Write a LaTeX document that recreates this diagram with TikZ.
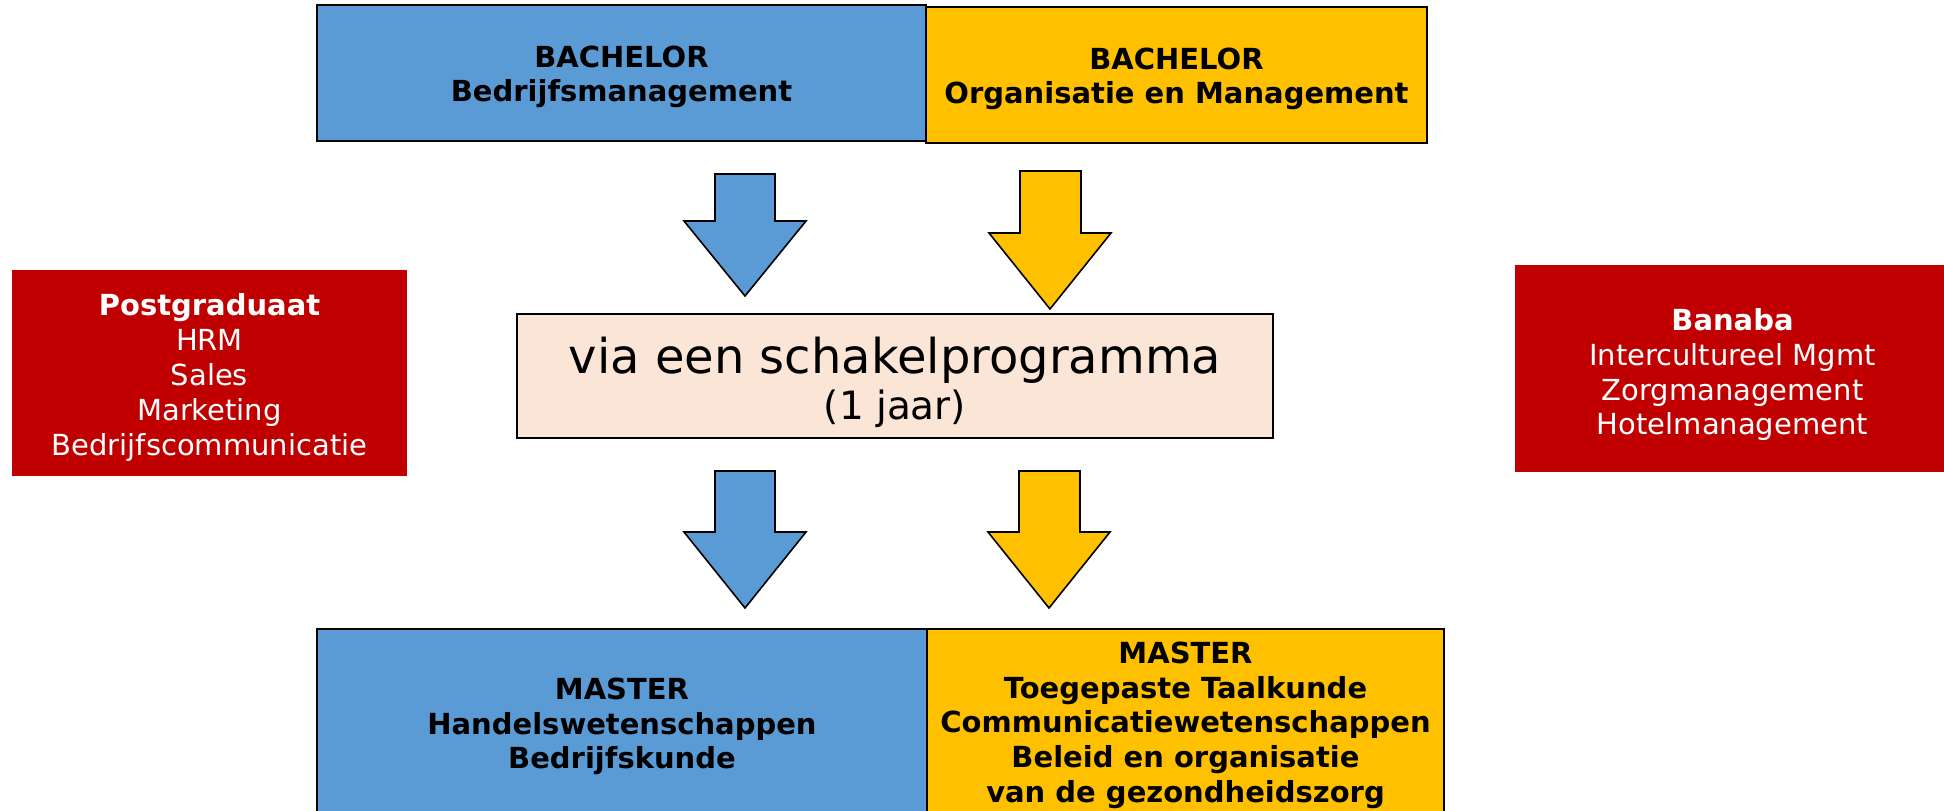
\documentclass[tikz,border=0pt]{standalone}
\usepackage{fontspec}
\setmainfont{DejaVu Sans}
\definecolor{bblue}{HTML}{5B9BD5}
\definecolor{byellow}{HTML}{FFC000}
\definecolor{bred}{HTML}{C00000}
\definecolor{bpeach}{HTML}{FBE5D6}
\newcommand{\boxfont}{\fontsize{14.5}{17.4}\selectfont}
\begin{document}
\begin{tikzpicture}[x=0.5pt,y=-0.5pt,
  box/.style={draw=black,line width=0.8pt,inner sep=0pt,outer sep=0pt},
  redbox/.style={fill=bred,inner sep=0pt,outer sep=0pt},
  boldtxt/.style={inner sep=0pt,align=center,font=\boxfont\bfseries},
  redtxt/.style={inner sep=0pt,align=center,font=\boxfont,text=white},
  blockarrow/.style={draw=black,line width=0.8pt,line join=miter}]
\useasboundingbox (0,0) rectangle (1944,810);
% top bachelor boxes
\node[box,fill=bblue,minimum width=304.5pt,minimum height=68pt] (bbach) at (621.5,73) {};
\node[boldtxt] (bbacht) at ([yshift=-1.9pt]bbach.center) {BACHELOR\\Bedrijfsmanagement};
\node[box,fill=byellow,minimum width=250.5pt,minimum height=68pt] (ybach) at (1176.5,75) {};
\node[boldtxt] (ybacht) at ([yshift=-1.9pt]ybach.center) {BACHELOR\\Organisatie en Management};
% middle box
\node[box,fill=bpeach,minimum width=378pt,minimum height=62pt] (mid) at (895,376) {};
\node[inner sep=0pt,align=center,font=\fontsize{24}{23}\selectfont] (midt) at ([yshift=-3.4pt]mid.center) {via een schakelprogramma\\{\fontsize{19.5}{23}\selectfont (1 jaar)}};
% bottom master boxes
\node[box,fill=bblue,minimum width=305pt,minimum height=95pt] (bmast) at (622,724) {};
\node[boldtxt] (bmastt) at ([yshift=-1.2pt]bmast.center) {MASTER\\Handelswetenschappen\\Bedrijfskunde};
\node[box,fill=byellow,minimum width=258.5pt,minimum height=95pt] (ymast) at (1185.5,724) {};
\node[boldtxt] (ymastt) at ([yshift=-0.6pt]ymast.center) {MASTER\\Toegepaste Taalkunde\\Communicatiewetenschappen\\Beleid en organisatie\\van de gezondheidszorg};
% red side boxes
\node[redbox,minimum width=197.5pt,minimum height=103pt] (post) at (209.5,373) {};
\node[redtxt] (postt) at ([yshift=-2.2pt]post.center) {\textbf{Postgraduaat}\\HRM\\Sales\\Marketing\\Bedrijfscommunicatie};
\node[redbox,minimum width=217.5pt,minimum height=103.5pt] (banaba) at (1732.5,368.5) {};
\node[redtxt] (banabat) at ([yshift=-3.1pt]banaba.center) {\textbf{Banaba}\\Intercultureel Mgmt\\Zorgmanagement\\Hotelmanagement};
% block arrows
\draw[blockarrow,fill=bblue] (715,174) -- (775,174) -- (775,221) -- (806,221) -- (745,296) -- (684,221) -- (715,221) -- cycle;
\draw[blockarrow,fill=byellow] (1020,171) -- (1081,171) -- (1081,233) -- (1111,233) -- (1050,309) -- (989,233) -- (1020,233) -- cycle;
\draw[blockarrow,fill=bblue] (715,471) -- (775,471) -- (775,532) -- (806,532) -- (745,608) -- (684,532) -- (715,532) -- cycle;
\draw[blockarrow,fill=byellow] (1019,471) -- (1080,471) -- (1080,532) -- (1110,532) -- (1049,608) -- (988,532) -- (1019,532) -- cycle;
\end{tikzpicture}
\end{document}
